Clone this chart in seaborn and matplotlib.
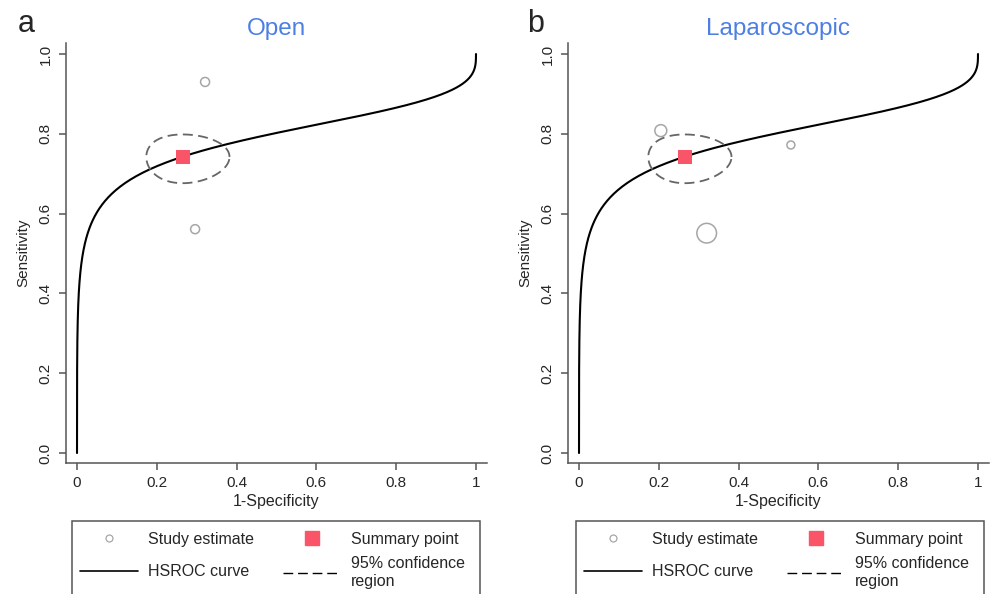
import numpy as np
import pandas as pd
import seaborn as sns
import matplotlib.pyplot as plt
from matplotlib.lines import Line2D
from matplotlib.patches import Rectangle

sns.set_style("ticks")
plt.rcParams["font.family"] = ["Liberation Sans", "DejaVu Sans"]

# study estimates (1-specificity, sensitivity, marker area ~ weight)
open_fpr = [0.321, 0.296]
open_sens = [0.930, 0.561]
open_size = [42, 42]

lap_fpr = [0.205, 0.531, 0.320]
lap_sens = [0.808, 0.772, 0.551]
lap_size = [74, 33, 200]

# HSROC summary (same model in both panels)
summary_fpr = 0.265
summary_sens = 0.742
hsroc_intercept = 1.40   # logit scale
hsroc_slope = 0.333
ci_semi_fpr = 0.54       # logit-scale semi axes of the 95% region
ci_semi_sens = 0.32

titles = ["Open", "Laparoscopic"]
panel_letters = ["a", "b"]
xtick_vals = [0, 0.2, 0.4, 0.6, 0.8, 1]
xtick_labels = ["0", "0.2", "0.4", "0.6", "0.8", "1"]
ytick_vals = [0, 0.2, 0.4, 0.6, 0.8, 1]
ytick_labels = ["0.0", "0.2", "0.4", "0.6", "0.8", "1.0"]

TITLE_COLOR = "#4d7fe3"
SUMMARY_COLOR = "#fa5468"
STUDY_COLOR = "#a6a6a6"
SPINE_COLOR = "#555555"
W, H = 992, 594


def logit(p):
    return np.log(p / (1 - p))


def expit(z):
    return 1 / (1 + np.exp(-z))


# hsroc curve
lx = np.linspace(-40, 40, 2000)
curve = pd.DataFrame({"fpr": expit(lx), "sens": expit(hsroc_intercept + hsroc_slope * lx)})

# confidence ellipse on logit scale
t = np.linspace(0, 2 * np.pi, 200)
ell = pd.DataFrame({
    "fpr": expit(logit(summary_fpr) + ci_semi_fpr * np.cos(t)),
    "sens": expit(logit(summary_sens) + ci_semi_sens * np.sin(t)),
})

studies = [
    pd.DataFrame({"fpr": open_fpr, "sens": open_sens, "s": open_size}),
    pd.DataFrame({"fpr": lap_fpr, "sens": lap_sens, "s": lap_size}),
]

fig = plt.figure(figsize=(W / 100, H / 100), dpi=100)
axes = [
    fig.add_axes([66 / W, 131 / H, 421 / W, 420 / H]),
    fig.add_axes([568 / W, 131 / H, 421 / W, 420 / H]),
]
box_left = [72, 576]
letter_x = [18, 527]

for i, ax in enumerate(axes):
    df = studies[i]
    sns.lineplot(data=curve, x="fpr", y="sens", sort=False, estimator=None,
                 color="black", lw=1.5, ax=ax)
    sns.lineplot(data=ell, x="fpr", y="sens", sort=False, estimator=None,
                 color="#666666", lw=1.3, ax=ax, linestyle=(0, (5.5, 3)))
    sns.scatterplot(data=df, x="fpr", y="sens", s=df["s"], marker="o",
                    facecolor="none", edgecolor=STUDY_COLOR, linewidth=1.1, ax=ax)
    ax.scatter([summary_fpr], [summary_sens], marker="s", s=100,
               color=SUMMARY_COLOR, zorder=5, linewidths=0)

    ax.set_xlim(-0.0276, 1.0276)
    ax.set_ylim(-0.025, 1.0276)
    ax.set_xticks(xtick_vals, xtick_labels)
    ax.set_yticks(ytick_vals, ytick_labels)
    for lab in ax.get_yticklabels():
        lab.set_rotation(90)
        lab.set_va("center")
    ax.tick_params(length=5, width=1.1, color=SPINE_COLOR, labelsize=11, pad=4.5)
    sns.despine(ax=ax)
    for sp in ["left", "bottom"]:
        ax.spines[sp].set_color(SPINE_COLOR)
        ax.spines[sp].set_linewidth(1.1)
    ax.set_xlabel("1-Specificity", fontsize=11.5, labelpad=3)
    ax.set_ylabel("Sensitivity", fontsize=11, labelpad=6)
    ax.set_title(titles[i], color=TITLE_COLOR, fontsize=17.5, pad=6)
    fig.text(letter_x[i] / W, 1 - 32 / H, panel_letters[i], fontsize=22, va="baseline")

    # legend: two single-column legends inside one frame
    common = dict(loc="upper left", bbox_transform=fig.transFigure, frameon=False,
                  borderaxespad=0, borderpad=0, handlelength=3.6, handletextpad=0.65,
                  fontsize=11.5)
    col1 = [
        Line2D([], [], ls="none", marker="o", mfc="none", mec=STUDY_COLOR, ms=5, mew=0.9),
        Line2D([], [], color="black", lw=1.2),
    ]
    col2 = [
        Line2D([], [], ls="none", marker="s", color=SUMMARY_COLOR, ms=10),
        Line2D([], [], color="black", lw=1.0, linestyle=(0, (7, 3.5))),
    ]
    leg1 = ax.legend(col1, ["Study estimate", "HSROC curve"],
                     bbox_to_anchor=((box_left[i] + 8) / W, 1 - 532 / H),
                     labelspacing=1.08, **common)
    ax.add_artist(leg1)
    ax.legend(col2, ["Summary point", "95% confidence\nregion"],
              bbox_to_anchor=((box_left[i] + 211) / W, 1 - 532 / H),
              labelspacing=0.57, **common)
    fig.add_artist(Rectangle((box_left[i] / W, -0.05), 408 / W, (H - 521) / H + 0.05,
                             transform=fig.transFigure, fill=False,
                             ec=SPINE_COLOR, lw=1.1))

fig.savefig("out.png", dpi=100)
